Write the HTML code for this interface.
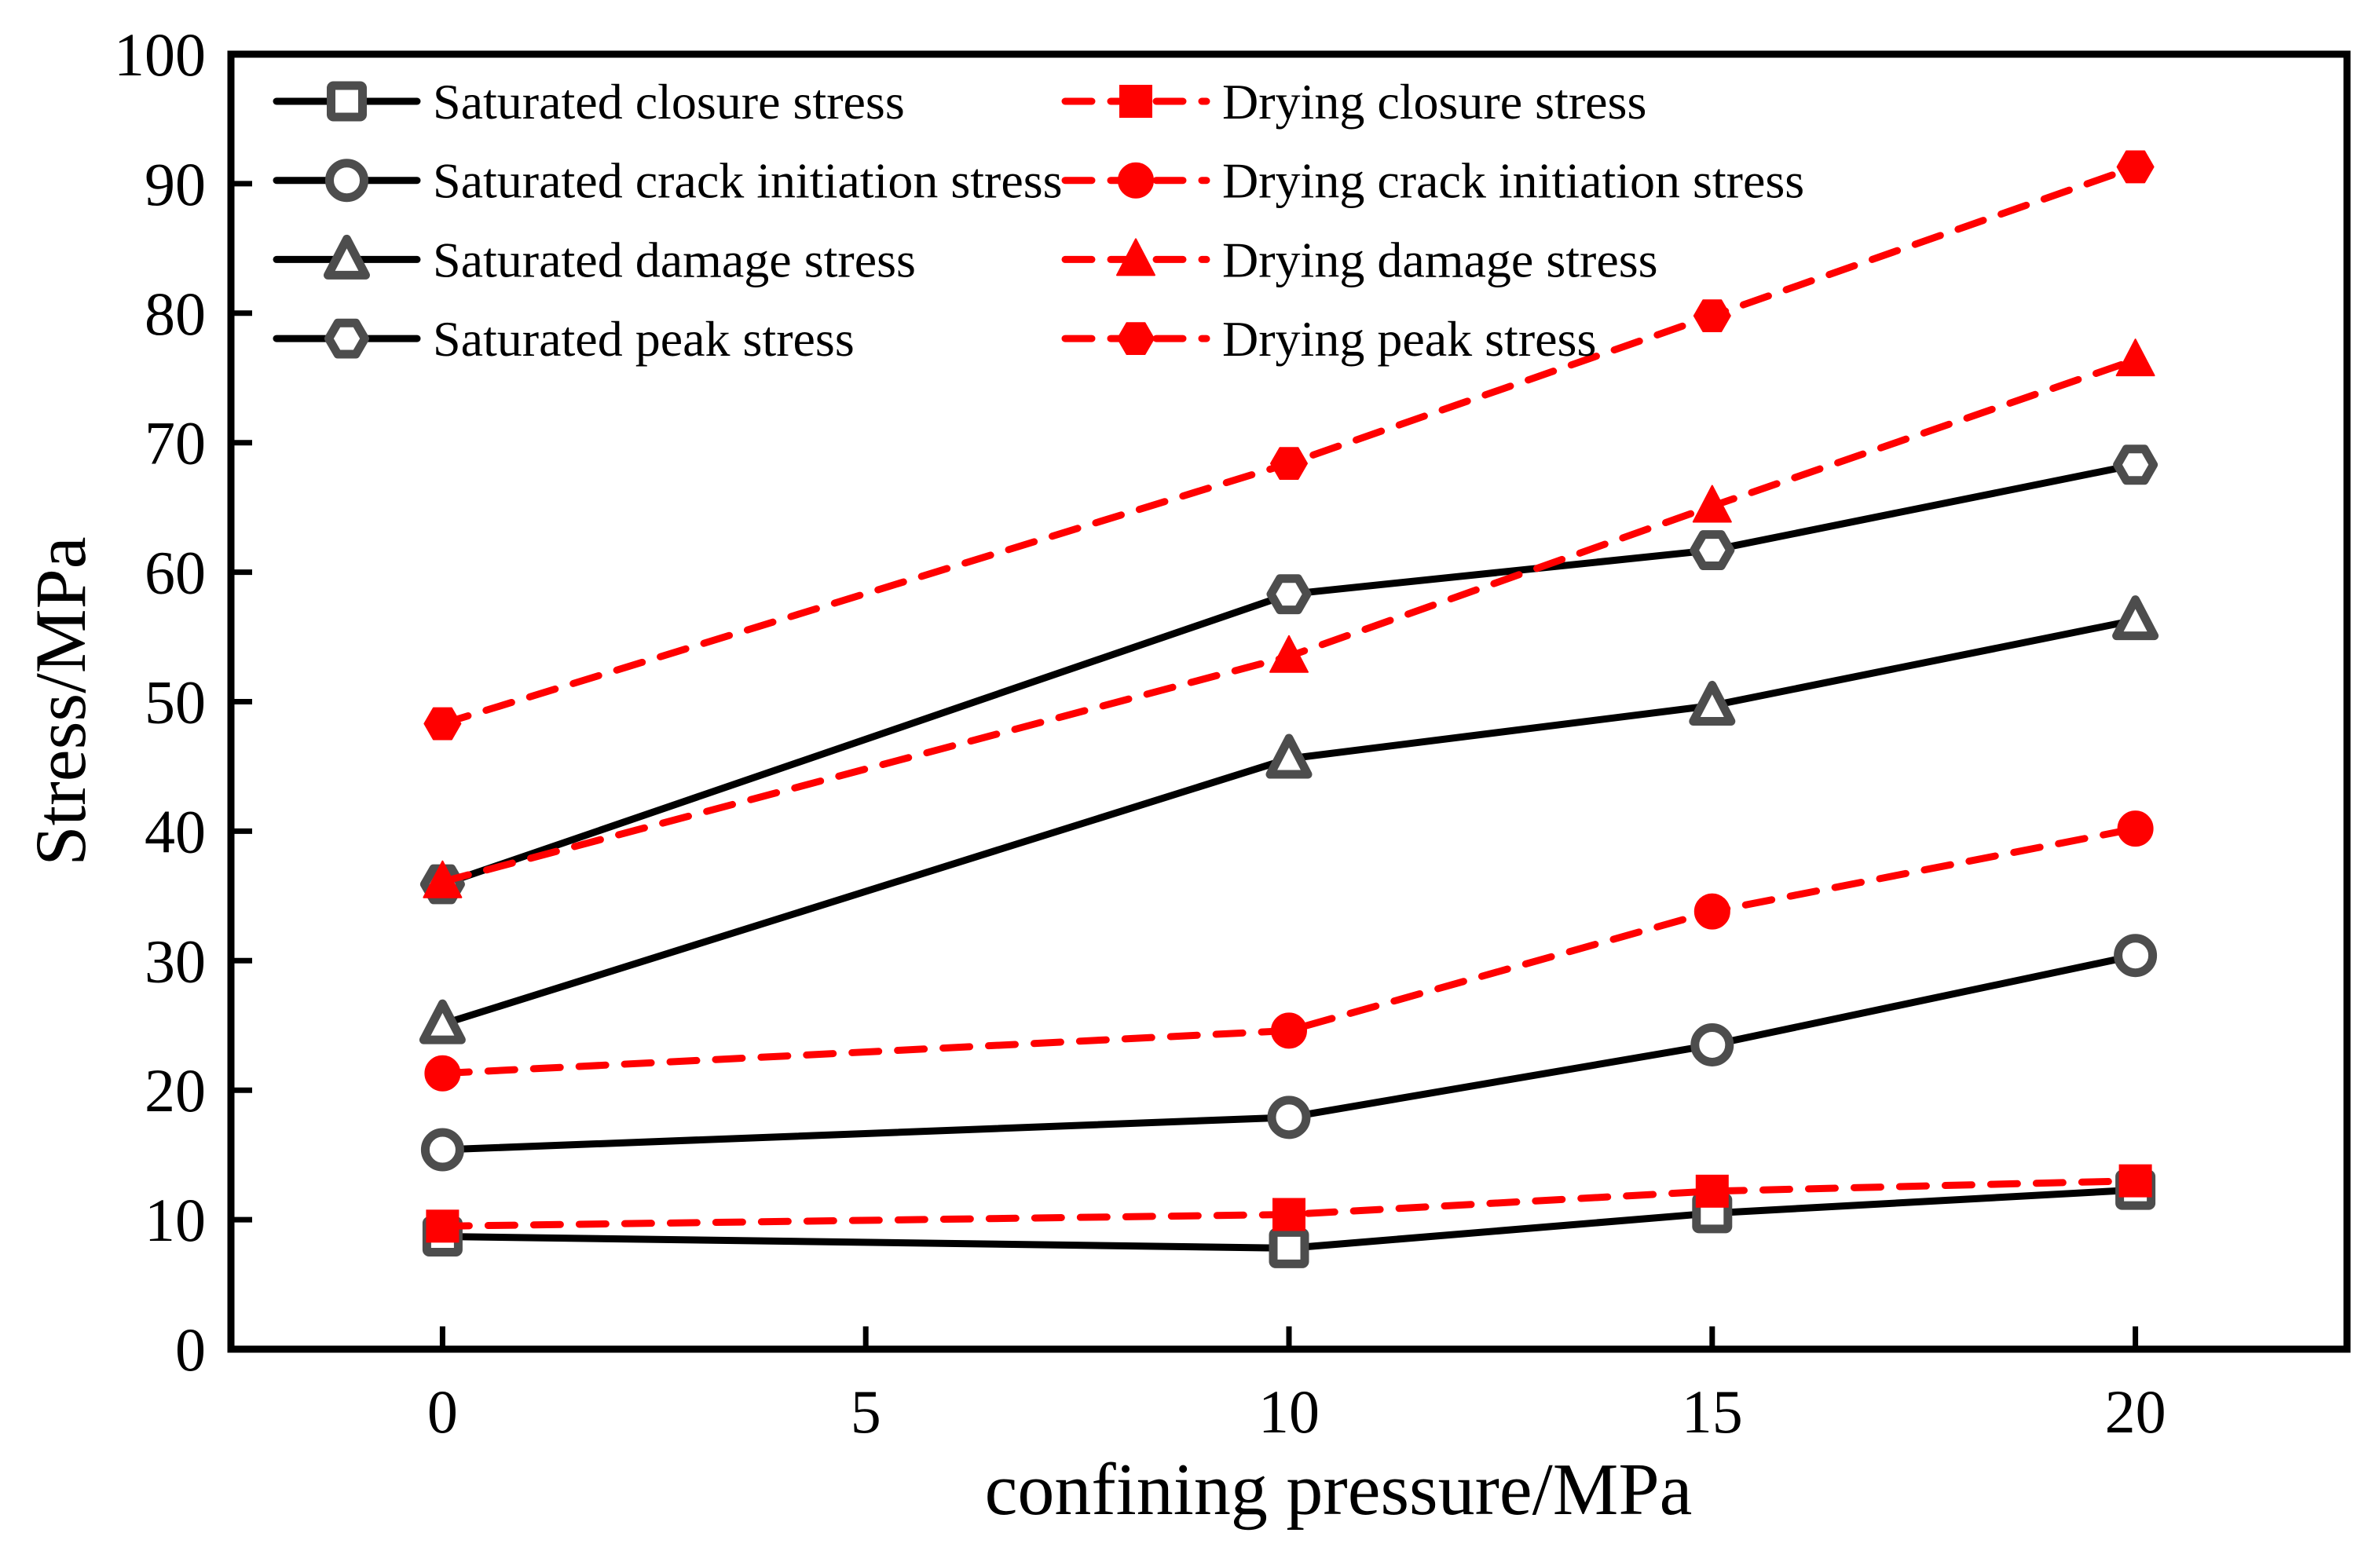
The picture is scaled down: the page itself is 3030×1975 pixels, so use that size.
<!DOCTYPE html>
<html><head><meta charset="utf-8"><style>html,body{margin:0;padding:0;background:#fff}svg{display:block}</style></head>
<body>
<svg id="chart" width="3030" height="1975" viewBox="0 0 3030 1975" xmlns="http://www.w3.org/2000/svg" font-family="'Liberation Serif', serif">
<g id="grid"></g>
<g id="series"></g>
<g id="legend"></g>
<rect x="294" y="69" width="2694" height="1649" fill="none" stroke="#000" stroke-width="9"/>
<text x="1704" y="1928" font-size="94" text-anchor="middle">confining pressure/MPa</text>
<text transform="translate(108,893) rotate(-90)" font-size="92" text-anchor="middle">Stress/MPa</text>
</svg>
<script>
const categories = [0, 10, 15, 20];
const xTicks = [0, 5, 10, 15, 20];
const yTicks = [0, 10, 20, 30, 40, 50, 60, 70, 80, 90, 100];
const satClosure = [8.7, 7.8, 10.5, 12.3];
const dryClosure = [9.5, 10.4, 12.2, 13.0];
const satCrack = [15.4, 17.9, 23.5, 30.4];
const dryCrack = [21.3, 24.6, 33.8, 40.2];
const satDamage = [25.1, 45.6, 49.7, 56.3];
const dryDamage = [36.1, 53.5, 65.1, 76.4];
const satPeak = [35.9, 58.3, 61.7, 68.3];
const dryPeak = [48.3, 68.4, 79.8, 91.3];
const seriesNames = ["Saturated closure stress","Saturated crack initiation stress","Saturated damage stress","Saturated peak stress","Drying closure stress","Drying crack initiation stress","Drying damage stress","Drying peak stress"];

const NS = "http://www.w3.org/2000/svg";
const L = 294, R = 2988, T = 69, B = 1718;
const xMin = -2.5, xMax = 22.5, yMin = 0, yMax = 100;
const xs = v => L + (v - xMin) / (xMax - xMin) * (R - L);
const ys = v => B - (v - yMin) / (yMax - yMin) * (B - T);
function mk(tag, attrs, parent) { const e = document.createElementNS(NS, tag); for (const k in attrs) e.setAttribute(k, attrs[k]); parent.appendChild(e); return e; }

const grid = document.getElementById('grid');
xTicks.forEach(t => {
  const l = mk('line', {x1: xs(t), x2: xs(t), y1: B, y2: B - 29, stroke: '#000', 'stroke-width': 7}, grid);
  
  
  const tx = mk('text', {x: xs(t), y: 1824, 'font-size': 78, 'text-anchor': 'middle'}, grid);
  tx.textContent = t;
  
  
});
yTicks.forEach(t => {
  const l = mk('line', {x1: L, x2: L + 27, y1: ys(t), y2: ys(t), stroke: '#000', 'stroke-width': 7}, grid);
  
  
  const tx = mk('text', {x: 262, y: ys(t) + 27, 'font-size': 78, 'text-anchor': 'end'}, grid);
  tx.textContent = t;
  
  
});

function marker(parent, shape, cx, cy, dry) {
  const fill = dry ? '#ff0000' : '#fff';
  const stroke = dry ? '#ff0000' : '#4d4d4d';
  const sw = dry ? 2 : 11;
  const s = 20;
  let e;
  if (shape === 'square') e = mk('rect', {x: cx - s, y: cy - s, width: 2 * s, height: 2 * s, rx: dry ? 0 : 3}, parent);
  else if (shape === 'circle') e = mk('circle', {cx, cy, r: s + 2}, parent);
  else if (shape === 'triangle') e = mk('polygon', {points: `${cx},${cy - s - 6} ${cx + s + 4},${cy + s} ${cx - s - 4},${cy + s}`, 'stroke-linejoin': 'round'}, parent);
  else { const pts = []; for (let i = 0; i < 6; i++) { const a = Math.PI / 6 + i * Math.PI / 3 - Math.PI / 2; pts.push((cx + (s + 3) * Math.cos(a)).toFixed(1) + ',' + (cy + (s + 3) * Math.sin(a)).toFixed(1)); } e = mk('polygon', {points: pts.join(' '), 'stroke-linejoin': 'round'}, parent); }
  e.setAttribute('fill', fill); e.setAttribute('stroke', stroke); e.setAttribute('stroke-width', sw);
  return e;
}

const allSeries = [satClosure, satCrack, satDamage, satPeak, dryClosure, dryCrack, dryDamage, dryPeak];
const shapes = ['square', 'circle', 'triangle', 'hexagon'];
const sg = document.getElementById('series');
allSeries.forEach((vals, i) => {
  const dry = i >= 4;
  const g = mk('g', {}, sg);
  
  
  const d = vals.map((v, j) => (j ? 'L' : 'M') + xs(categories[j]) + ',' + ys(v)).join(' ');
  const p = mk('path', {d, fill: 'none', stroke: dry ? '#ff0000' : '#000', 'stroke-width': 9, 'stroke-dasharray': dry ? '34 24' : 'none', 'stroke-linecap': 'round'}, g);
  
  
  vals.forEach((v, j) => {
    const m = marker(g, shapes[i % 4], xs(categories[j]), ys(v), dry);
    
    
  });
});

const lg = document.getElementById('legend');
seriesNames.forEach((name, i) => {
  const dry = i >= 4;
  const row = i % 4;
  const y = 129 + row * 100.7;
  const x0 = dry ? 1356 : 352, x1 = dry ? 1536 : 531, mx = (x0 + x1) / 2;
  const g = mk('g', {}, lg);
  
  
  mk('line', {x1: x0, x2: x1, y1: y, y2: y, stroke: dry ? '#ff0000' : '#000', 'stroke-width': 9, 'stroke-dasharray': dry ? '34 24' : 'none', 'stroke-linecap': 'round'}, g);
  marker(g, shapes[row], mx, y, dry);
  const t = mk('text', {x: dry ? 1556 : 551, y: y + 22, 'font-size': 64}, g);
  t.textContent = name;
});
</script>
</body></html>
